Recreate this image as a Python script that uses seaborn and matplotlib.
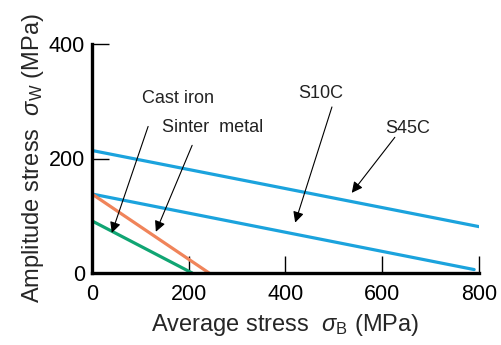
import matplotlib
matplotlib.use("Agg")
import matplotlib.pyplot as plt
import seaborn as sns
import pandas as pd

# ---- data ----
materials = ["S45C", "S10C", "Sinter metal", "Cast iron"]
stress_start = [0, 0, 0, 0]
amp_start = [214, 138, 138, 91]
stress_end = [800, 790, 242, 207]
amp_end = [81, 6, 0, 0]
colors = ["#1ba3dd", "#1ba3dd", "#f0845a", "#10a573"]

x_ticks = [0, 200, 400, 600, 800]
y_ticks = [0, 200, 400]

# annotation: label, text position, arrow tail, arrow tip (data units)
ann_labels = ["Cast iron", "Sinter  metal", "S10C", "S45C"]
ann_text = [(178, 305), (250, 255), (473, 314), (653, 253)]
ann_tail = [(116, 256), (207, 223), (496, 290), (626, 237)]
ann_tip = [(41, 70), (132, 72), (420, 88), (537, 140)]

rows = []
for m, xs, ys, xe, ye in zip(materials, stress_start, amp_start, stress_end, amp_end):
    rows.append({"material": m, "stress": xs, "amp": ys})
    rows.append({"material": m, "stress": xe, "amp": ye})
df = pd.DataFrame(rows)

sns.set_style("ticks")
plt.rcParams["font.family"] = ["Liberation Sans", "DejaVu Sans"]
plt.rcParams["mathtext.fontset"] = "custom"
plt.rcParams["mathtext.rm"] = "Liberation Sans"
plt.rcParams["mathtext.it"] = "Liberation Sans:italic"

fig = plt.figure(figsize=(5.02, 3.45), dpi=100)
ax = fig.add_axes([92 / 502, 72 / 345, 387 / 502, 229 / 345])

sns.lineplot(data=df, x="stress", y="amp", hue="material", units="material",
             estimator=None, palette=dict(zip(materials, colors)),
             linewidth=2.3, legend=False, ax=ax)

ax.set_xlim(0, 800)
ax.set_ylim(0, 400)
ax.set_xticks(x_ticks)
ax.set_yticks(y_ticks)
ax.tick_params(direction="in", length=12, width=1.0, labelsize=15.5, colors="black")
ax.tick_params(axis="x", pad=8)
ax.tick_params(axis="y", pad=5)
for s in ["top", "right"]:
    ax.spines[s].set_visible(False)
for s in ["left", "bottom"]:
    ax.spines[s].set_linewidth(2.4)
    ax.spines[s].set_color("black")
ax.spines["bottom"].set_bounds(0, 800)

ax.set_xlabel(r"Average stress  $\sigma_{\rm B}$ (MPa)", fontsize=17, labelpad=5)
ax.set_ylabel(r"Amplitude stress  $\sigma_{\rm W}$ (MPa)", fontsize=17, labelpad=2)

for lab, tp, tail, tip in zip(ann_labels, ann_text, ann_tail, ann_tip):
    ax.text(tp[0], tp[1], lab, ha="center", va="center", fontsize=13, color="#222222")
    ax.annotate("", xy=tip, xytext=tail,
                arrowprops=dict(arrowstyle="-|>", color="black", lw=0.8,
                                mutation_scale=16, shrinkA=0, shrinkB=0))

fig.savefig("out.png", dpi=100)
